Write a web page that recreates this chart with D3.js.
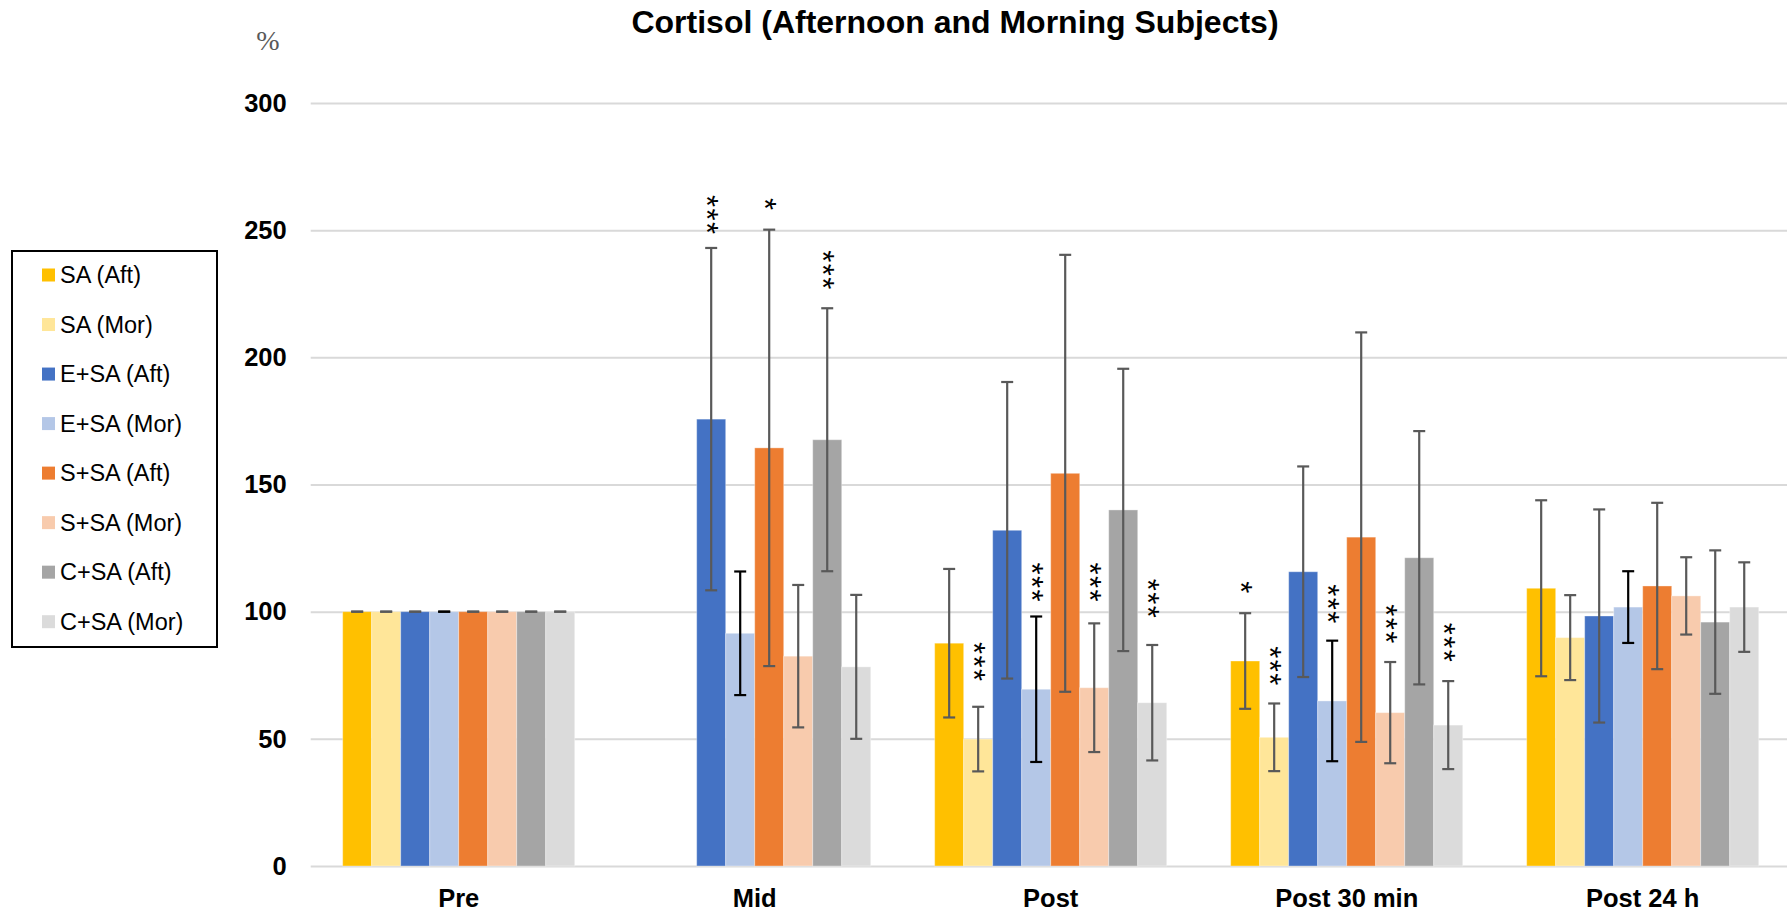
<!DOCTYPE html>
<html>
<head>
<meta charset="utf-8">
<script src="https://cdn.jsdelivr.net/npm/d3@7"></script>
<style>
  html, body { margin: 0; padding: 0; background: #ffffff; }
  svg { display: block; font-family: "Liberation Sans", Arial, sans-serif; }
</style>
</head>
<body>
<svg id="chart" width="1787" height="916"></svg>
<script>
// ---------------- data ----------------
const categories = ["Pre", "Mid", "Post", "Post 30 min", "Post 24 h"];
const seriesNames = ["SA (Aft)", "SA (Mor)", "E+SA (Aft)", "E+SA (Mor)", "S+SA (Aft)", "S+SA (Mor)", "C+SA (Aft)", "C+SA (Mor)"];
const yTicks = [0, 50, 100, 150, 200, 250, 300];

// means (%), null = not measured
const saAft   = [100, null, 87.6, 80.6, 109.2];
const saMor   = [100, null, 49.9, 50.6, 89.8];
const esaAft  = [100, 175.7, 132.0, 115.7, 98.3];
const esaMor  = [100, 91.5, 69.5, 64.9, 101.8];
const ssaAft  = [100, 164.4, 154.4, 129.3, 110.1];
const ssaMor  = [100, 82.5, 70.1, 60.3, 106.2];
const csaAft  = [100, 167.6, 140.0, 121.2, 95.9];
const csaMor  = [100, 78.3, 64.2, 55.4, 101.8];

// standard deviations (error bars)
const saAftSd  = [0, null, 29.2, 18.8, 34.6];
const saMorSd  = [0, null, 12.7, 13.3, 16.7];
const esaAftSd = [0, 67.3, 58.3, 41.4, 41.9];
const esaMorSd = [0, 24.3, 28.6, 23.7, 14.1];
const ssaAftSd = [0, 85.8, 85.9, 80.5, 32.7];
const ssaMorSd = [0, 28.0, 25.3, 19.9, 15.2];
const csaAftSd = [0, 51.7, 55.5, 49.8, 28.2];
const csaMorSd = [0, 28.3, 22.7, 17.3, 17.6];

// significance marks: series, category, marks, value level of lowest mark
const sigSeries   = ["E+SA (Aft)", "S+SA (Aft)", "C+SA (Aft)", "SA (Mor)", "E+SA (Mor)", "S+SA (Mor)", "C+SA (Mor)", "SA (Aft)", "SA (Mor)", "E+SA (Mor)", "S+SA (Mor)", "C+SA (Mor)"];
const sigCategory = ["Mid", "Mid", "Mid", "Post", "Post", "Post", "Post", "Post 30 min", "Post 30 min", "Post 30 min", "Post 30 min", "Post 30 min"];
const sigMarks    = ["***", "*", "***", "***", "***", "***", "***", "*", "***", "***", "***", "***"];
const sigLevel    = [250.8, 260.3, 229.1, 75.1, 106.3, 106.3, 100.0, 109.6, 73.4, 97.8, 89.9, 82.7];

// ---------------- style ----------------
const colors = ["#FFC000", "#FFE699", "#4472C4", "#B4C7E7", "#ED7D31", "#F8CBAD", "#A5A5A5", "#DBDBDB"];
const errColors = ["#595959", "#595959", "#595959", "#000000", "#595959", "#595959", "#595959", "#595959"];

const means = [saAft, saMor, esaAft, esaMor, ssaAft, ssaMor, csaAft, csaMor];
const sds = [saAftSd, saMorSd, esaAftSd, esaMorSd, ssaAftSd, ssaMorSd, csaAftSd, csaMorSd];

const rows = [];
categories.forEach((c, ci) => {
  seriesNames.forEach((s, si) => {
    const v = means[si][ci];
    if (v !== null) rows.push({ cat: c, series: s, si, value: v, sd: sds[si][ci] });
  });
});

const W = 1787, H = 916;
const plotLeft = 310.7, plotRight = 1790.7, plotTop = 103, plotBottom = 866;

const svg = d3.select("#chart");

const x0 = d3.scaleBand().domain(categories).range([plotLeft, plotRight])
  .paddingInner(0.216).paddingOuter(0.108);
const x1 = d3.scaleBand().domain(seriesNames).range([0, x0.bandwidth()]);
const y = d3.scaleLinear().domain([0, 300]).range([plotBottom, plotTop]);

// gridlines + y labels
const yAxis = d3.axisLeft(y).tickValues(yTicks).tickSize(-(W - plotLeft)).tickPadding(24);
const gy = svg.append("g").attr("transform", `translate(${plotLeft},0)`).call(yAxis);
gy.select(".domain").remove();
gy.selectAll(".tick line").attr("stroke", "#D9D9D9").attr("stroke-width", 2);
gy.selectAll(".tick text")
  .attr("fill", "#000").attr("font-size", 25.5).attr("font-weight", "bold")
  .attr("font-family", "'Liberation Sans', Arial, sans-serif");

// bars
svg.append("g").selectAll("rect").data(rows).join("rect")
  .attr("x", d => x0(d.cat) + x1(d.series))
  .attr("width", x1.bandwidth())
  .attr("y", d => y(d.value))
  .attr("height", d => y(0) - y(d.value))
  .attr("fill", d => colors[d.si])
  .attr("stroke", "#ffffff").attr("stroke-opacity", 0.35).attr("stroke-width", 1);

// error bars
const capW = 12;
const eg = svg.append("g").selectAll("g").data(rows).join("g")
  .attr("stroke", d => errColors[d.si]).attr("stroke-width", 2.2);
const cx = d => x0(d.cat) + x1(d.series) + x1.bandwidth() / 2;
eg.append("line")
  .attr("x1", cx).attr("x2", cx)
  .attr("y1", d => y(d.value + d.sd)).attr("y2", d => y(d.value - d.sd));
eg.append("line")
  .attr("x1", d => cx(d) - capW / 2).attr("x2", d => cx(d) + capW / 2)
  .attr("y1", d => y(d.value + d.sd)).attr("y2", d => y(d.value + d.sd));
eg.append("line")
  .attr("x1", d => cx(d) - capW / 2).attr("x2", d => cx(d) + capW / 2)
  .attr("y1", d => y(d.value - d.sd)).attr("y2", d => y(d.value - d.sd));

// x labels
const xAxis = d3.axisBottom(x0).tickSize(0).tickPadding(22.5);
const gx = svg.append("g").attr("transform", `translate(0,${plotBottom})`).call(xAxis);
gx.select(".domain").remove();
gx.selectAll(".tick text")
  .attr("fill", "#000").attr("font-size", 25.5).attr("font-weight", "bold")
  .attr("font-family", "'Liberation Sans', Arial, sans-serif");

// significance marks: one rotated text per annotation (marks stacked vertically)
const starFs = 31, starStep = 13.5;
const sig = sigSeries.map((s, i) => ({ series: s, cat: sigCategory[i], marks: sigMarks[i], level: sigLevel[i] }));
svg.append("g").selectAll("text").data(sig).join("text")
  .attr("transform", d => {
    const xc = x0(d.cat) + x1(d.series) + x1.bandwidth() / 2 + 3;
    const yTop = y(d.level) - (d.marks.length - 1) * starStep - 0.1945 * starFs;
    return `translate(${xc},${yTop}) rotate(90)`;
  })
  .attr("dy", "0.575em")
  .attr("font-size", starFs)
  .attr("letter-spacing", starStep - 0.389 * starFs)
  .attr("fill", "#000")
  .text(d => d.marks);

// title
svg.append("text")
  .attr("x", 955).attr("y", 33)
  .attr("text-anchor", "middle")
  .attr("font-size", 32).attr("font-weight", "bold").attr("fill", "#000")
  .text("Cortisol (Afternoon and Morning Subjects)");

// unit label
svg.append("text")
  .attr("x", 268).attr("y", 50)
  .attr("text-anchor", "middle")
  .attr("font-family", "'Liberation Serif', 'Times New Roman', serif")
  .attr("font-size", 28).attr("fill", "#595959")
  .text("%");

// legend
const lg = svg.append("g");
lg.append("rect")
  .attr("x", 12).attr("y", 251).attr("width", 205).attr("height", 396)
  .attr("fill", "#fff").attr("stroke", "#000").attr("stroke-width", 2);
const ly = d3.scalePoint().domain(seriesNames).range([275, 621.7]);
const li = lg.selectAll("g.item").data(seriesNames).join("g").attr("class", "item")
  .attr("transform", d => `translate(0,${ly(d)})`);
li.append("rect").attr("x", 42).attr("y", -6.5).attr("width", 13).attr("height", 13)
  .attr("fill", (d, i) => colors[i]);
li.append("text").attr("x", 60).attr("y", 0).attr("dy", "0.35em")
  .attr("font-size", 23.5).attr("fill", "#000").text(d => d);
</script>
</body>
</html>
